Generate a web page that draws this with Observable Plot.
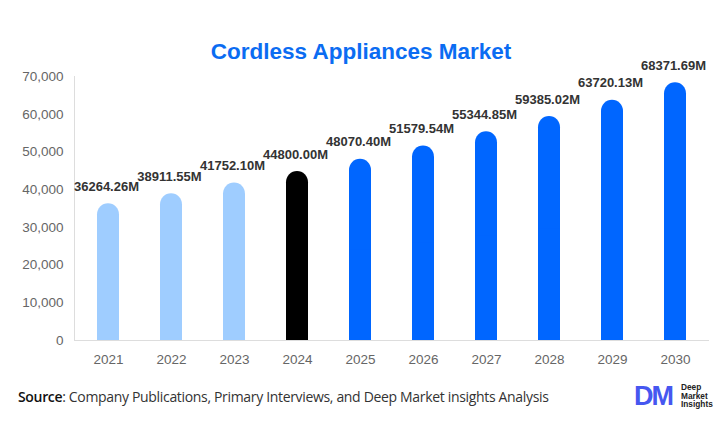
<!DOCTYPE html>
<html>
<head>
<meta charset="utf-8">
<script src="https://cdn.jsdelivr.net/npm/d3@7"></script>
<script src="https://cdn.jsdelivr.net/npm/@observablehq/plot@0.6"></script>
<style>
  html, body { margin: 0; padding: 0; background: #fff; }
  #wrap { position: relative; width: 726px; height: 443px; overflow: hidden; font-family: "Liberation Sans", Arial, sans-serif; }
  #title { position: absolute; left: 0; width: 722px; top: 39px; text-align: center; font-weight: bold; font-size: 22.5px; color: #0b6cf2; }
  #chart { position: absolute; left: 0; top: 0; }
  #source { position: absolute; left: 18px; top: 387px; font-family: "Open Sans", sans-serif; font-weight: 400; font-size: 14px; color: #333; letter-spacing: -0.33px; white-space: nowrap; }
  #source b { font-weight: 600; color: #111; }
  #logo { position: absolute; left: 634px; top: 383px; display: flex; align-items: center; }
  #logo .dm { font-family: "Liberation Sans", Arial, sans-serif; font-weight: bold; font-size: 27px; color: #4657f0; letter-spacing: -2px; line-height: 26px; }
  #logo .txt { margin-left: 9px; font-family: "Liberation Sans", Arial, sans-serif; font-weight: bold; font-size: 8.3px; line-height: 8.5px; color: #222; }
</style>
</head>
<body>
<div id="wrap">
  <div id="chart"></div>
  <div id="title">Cordless Appliances Market</div>
  <div id="source"><b>Source</b>: Company Publications, Primary Interviews, and Deep Market insights Analysis</div>
  <div id="logo"><span class="dm">DM</span><span class="txt">Deep<br>Market<br>Insights</span></div>
</div>
<script>
const years = ["2021","2022","2023","2024","2025","2026","2027","2028","2029","2030"];
const values = [36264.26, 38911.55, 41752.10, 44800.00, 48070.40, 51579.54, 55344.85, 59385.02, 63720.13, 68371.69];
const colors = ["#9fcdff","#9fcdff","#9fcdff","#000000","#0066ff","#0066ff","#0066ff","#0066ff","#0066ff","#0066ff"];
const yTicks = [0, 10000, 20000, 30000, 40000, 50000, 60000, 70000];

const data = years.map((y, i) => ({year: y, value: values[i], color: colors[i]}));

const chart = Plot.plot({
  width: 726,
  height: 380,
  marginTop: 76,
  marginBottom: 40,
  marginLeft: 74,
  marginRight: 17,
  style: {fontFamily: "'Liberation Sans', Arial, sans-serif", fontSize: "13px", color: "#666", background: "transparent"},
  x: {domain: years, paddingInner: 0.644, paddingOuter: 0.344, label: null},
  y: {domain: [0, 70000], label: null},
  marks: [
    Plot.axisY({ticks: yTicks, tickSize: 0, tickPadding: 11, tickFormat: d => d3.format(",")(d), fill: "#666", fontSize: 13.5}),
    Plot.axisX({tickSize: 0, tickPadding: 14, fill: "#666", fontSize: 13.5}),
    Plot.ruleY([0], {stroke: "#ddd"}),
    Plot.frame({anchor: "left", stroke: "#ddd"}),
    Plot.barY(data, {x: "year", y: "value", fill: "color", rx: 11.25}),
    Plot.barY(data, {x: "year", y1: 0, y2: d => d.value / 2, fill: "color"}),
    Plot.text(data, {x: "year", y: "value", text: d => d.value.toFixed(2) + "M", dy: -17, dx: -2, fontWeight: "bold", fontSize: 13, fill: "#333"})
  ]
});
document.getElementById("chart").appendChild(chart);
</script>
</body>
</html>
